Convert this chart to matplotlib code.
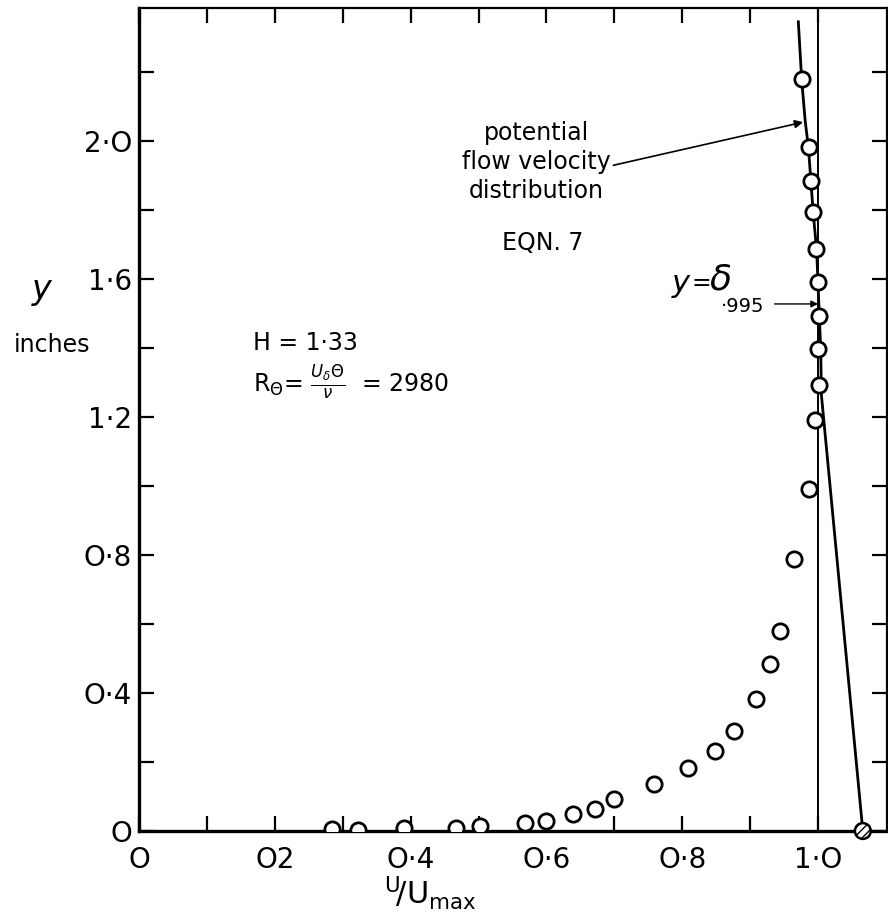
import numpy as np
import matplotlib
matplotlib.use("Agg")
import matplotlib.pyplot as plt

plt.rcParams['font.family'] = ['DejaVu Sans']
plt.rcParams['mathtext.fontset'] = 'dejavusans'

# measured points, U/Umax vs y (inches)
u_ratio = [0.977, 0.986, 0.990, 0.992, 0.997, 1.000, 1.002, 1.000, 1.001, 0.996,
           0.986, 0.965, 0.944, 0.930, 0.909, 0.876, 0.848, 0.809, 0.759, 0.700,
           0.671, 0.639, 0.600, 0.568, 0.502, 0.467, 0.391, 0.323, 0.284]
y_in = [2.181, 1.982, 1.884, 1.794, 1.686, 1.591, 1.494, 1.396, 1.293, 1.191,
        0.991, 0.790, 0.580, 0.483, 0.383, 0.289, 0.232, 0.182, 0.137, 0.092,
        0.063, 0.049, 0.030, 0.024, 0.014, 0.010, 0.008, 0.003, 0.005]

# potential flow velocity distribution (EQN. 7)
pot_u = [0.971, 0.976, 0.981, 0.986, 0.993, 0.998, 1.001, 1.004, 1.005, 1.066]
pot_y = [2.346, 2.177, 2.061, 1.979, 1.790, 1.684, 1.539, 1.394, 1.264, 0.0]

wall_u = 1.066

xtick_vals = [0, 0.1, 0.2, 0.3, 0.4, 0.5, 0.6, 0.7, 0.8, 0.9, 1.0]
xtick_labels = ['O', '', 'O2', '', 'O·4', '', 'O·6', '', 'O·8', '', '1·O']
ytick_vals = [0, 0.2, 0.4, 0.6, 0.8, 1.0, 1.2, 1.4, 1.6, 1.8, 2.0, 2.2]
ytick_labels = ['O', '', 'O·4', '', 'O·8', '', '1·2', '', '1·6', '', '2·O', '']

fig = plt.figure(figsize=(8.88, 9.22), dpi=100)
ax = fig.add_axes([139/888, 91/922, 748/888, 823/922])

ax.plot(pot_u, pot_y, color='black', lw=2.0, zorder=2)
ax.axvline(1.0, color='black', lw=1.4, zorder=2)
ax.plot(u_ratio, y_in, 'o', ms=11, mfc='white', mec='black', mew=2.0, zorder=3)
ax.scatter([wall_u], [0], s=130, facecolor='white', edgecolor='black', hatch='////',
           lw=1.8, zorder=4, clip_on=False)

ax.set_xlim(0, 1.1016)
ax.set_ylim(0, 2.386)

ax.set_xticks(xtick_vals)
ax.set_xticklabels(xtick_labels, fontsize=20)
ax.set_yticks(ytick_vals)
ax.set_yticklabels(ytick_labels, fontsize=20)
ax.tick_params(direction='in', top=True, right=True, length=11, width=1.6)
ax.tick_params(axis='x', pad=11)
ax.tick_params(axis='y', pad=5)

for side in ['left', 'bottom']:
    ax.spines[side].set_linewidth(2.4)
for side in ['top', 'right']:
    ax.spines[side].set_linewidth(1.6)

# axis labels
fig.text(42/888, 1 - 290/922, 'y', fontsize=24, style='italic', ha='center', va='center')
fig.text(52/888, 1 - 345/922, 'inches', fontsize=17, ha='center', va='center')
fig.text(430/888, 1 - 893/922, r'$^{\mathrm{U}}\!/\mathrm{U}_{\mathrm{max}}$',
         fontsize=22, ha='center', va='center')

# annotations
ax.annotate('potential\nflow velocity\ndistribution', xy=(0.978, 2.055),
            xytext=(0.585, 1.94), fontsize=17, ha='center', va='center',
            linespacing=1.25,
            arrowprops=dict(arrowstyle='-|>', color='black', lw=1.2,
                            shrinkA=0, shrinkB=0, mutation_scale=12,
                            relpos=(1.0, 0.45)))
ax.text(0.595, 1.706, 'EQN. 7', fontsize=17, ha='center', va='center')

ax.text(0.798, 1.588, 'y', fontsize=22, style='italic', ha='center', va='center')
ax.text(0.828, 1.588, '=', fontsize=17, ha='center', va='center')
ax.text(0.856, 1.60, 'δ', fontsize=26, style='italic', ha='center', va='center')
ax.text(0.889, 1.52, '·995', fontsize=14, ha='center', va='center')
ax.annotate('', xy=(1.0, 1.528), xytext=(0.936, 1.528),
            arrowprops=dict(arrowstyle='-|>', color='black', lw=1.0,
                            shrinkA=0, shrinkB=0, mutation_scale=10))

ax.text(0.168, 1.415, 'H = 1·33', fontsize=17, ha='left', va='center')
ax.text(0.168, 1.30, r'R$_{\Theta}$= $\frac{U_{\delta}\Theta}{\nu}$  = 2980',
        fontsize=17, ha='left', va='center')

plt.savefig('out.png', dpi=100)
